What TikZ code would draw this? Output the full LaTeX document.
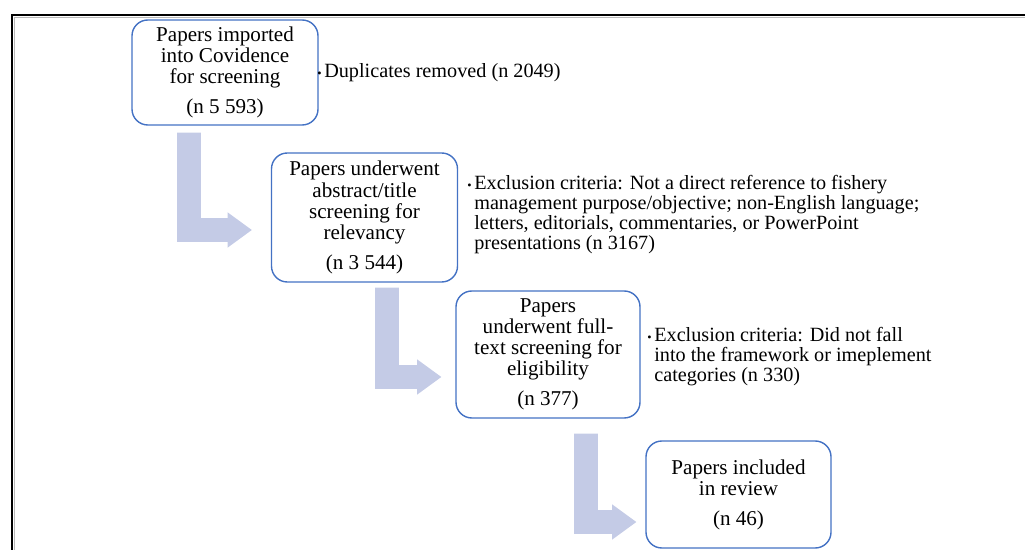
\documentclass[tikz,border=0pt]{standalone}
\usepackage{fontspec}
\setmainfont{Liberation Serif}
\usetikzlibrary{calc}

\definecolor{boxblue}{RGB}{68,114,196}
\definecolor{arrowfill}{RGB}{196,203,230}

\tikzset{
	stage/.style={draw=boxblue, line width=0.8pt, rounded corners=9pt, fill=white,
		align=center, minimum width=3.72cm, font=\fontsize{12}{12}\selectfont},
	note/.style={anchor=north west, inner sep=0pt, align=left,
		font=\fontsize{11.5}{11}\selectfont},
	bentfill/.style={fill=arrowfill}
}

\newcommand{\crit}[1]{{\scriptsize\textbullet}\hspace{1.5pt}\begin{tabular}[t]{@{}l@{}}#1\end{tabular}}

% L-shaped block arrow: #1 top of the bar, #2 tip
\newcommand{\bentarrow}[2]{%
	\fill [bentfill] let \p1=#1, \p2=#2 in
		(\x1-6.8pt, \y1) -- (\x1+6.8pt, \y1) -- (\x1+6.8pt, \y2+6.8pt) --
		(\x2-13.7pt, \y2+6.8pt) -- (\x2-13.7pt, \y2+10pt) -- (\x2, \y2) --
		(\x2-13.7pt, \y2-10pt) -- (\x2-13.7pt, \y2-6.8pt) --
		(\x1-6.8pt, \y2-6.8pt) -- cycle;}

\begin{document}
\begin{tikzpicture}[scale=1,>=latex]
	\useasboundingbox (0, 0) rectangle (20.5, 11);

	% frame
	\draw [gray!55, line width=0.7pt] (20.5, 10.65) -- (0.29, 10.65) -- (0.29, 0);
	\draw [line width=1.3pt] (20.5, 10.7) -- (0.24, 10.7) -- (0.24, 0);

	\node [stage, minimum height=2.1cm] (imported) at (4.5, 9.55)
		{Papers imported\\into Covidence\\for screening\\[5pt](n 5 593)};
	\node [stage, minimum height=2.58cm] (abstract) at (7.29, 6.65)
		{Papers underwent\\abstract/title\\screening for\\relevancy\\[5pt](n 3 544)};
	\node [stage, minimum height=2.54cm, minimum width=3.68cm] (fulltext) at (10.96, 3.91)
		{Papers\\underwent full-\\text screening for\\eligibility\\[5pt](n 377)};
	\node [stage, minimum height=2.14cm, minimum width=3.7cm] (included) at (14.77, 1.11)
		{Papers included\\in review\\[5pt](n 46)};

	\node [note] (dupl) at (6.34, 9.74) {\crit{Duplicates removed (n 2049)}};
	\node [note] (exclabs) at (9.34, 7.5) {\crit{Exclusion criteria: Not a direct reference to fishery\\
		management purpose/objective; non-English language;\\
		letters, editorials, commentaries, or PowerPoint\\
		presentations (n 3167)}};
	\node [note] (exclfull) at (12.94, 4.46) {\crit{Exclusion criteria: Did not fall\\
		into the framework or imeplement\\
		categories (n 330)}};

	\bentarrow{($(imported.south)+(-0.72,-0.14)$)}{($(abstract.west)+(-0.38,-0.25)$)}
	\bentarrow{($(abstract.south)+(0.45,-0.1)$)}{($(fulltext.west)+(-0.28,-0.45)$)}
	\bentarrow{($(fulltext.south)+(0.76,-0.3)$)}{($(included.west)+(-0.18,-0.55)$)}

\end{tikzpicture}
\end{document}
